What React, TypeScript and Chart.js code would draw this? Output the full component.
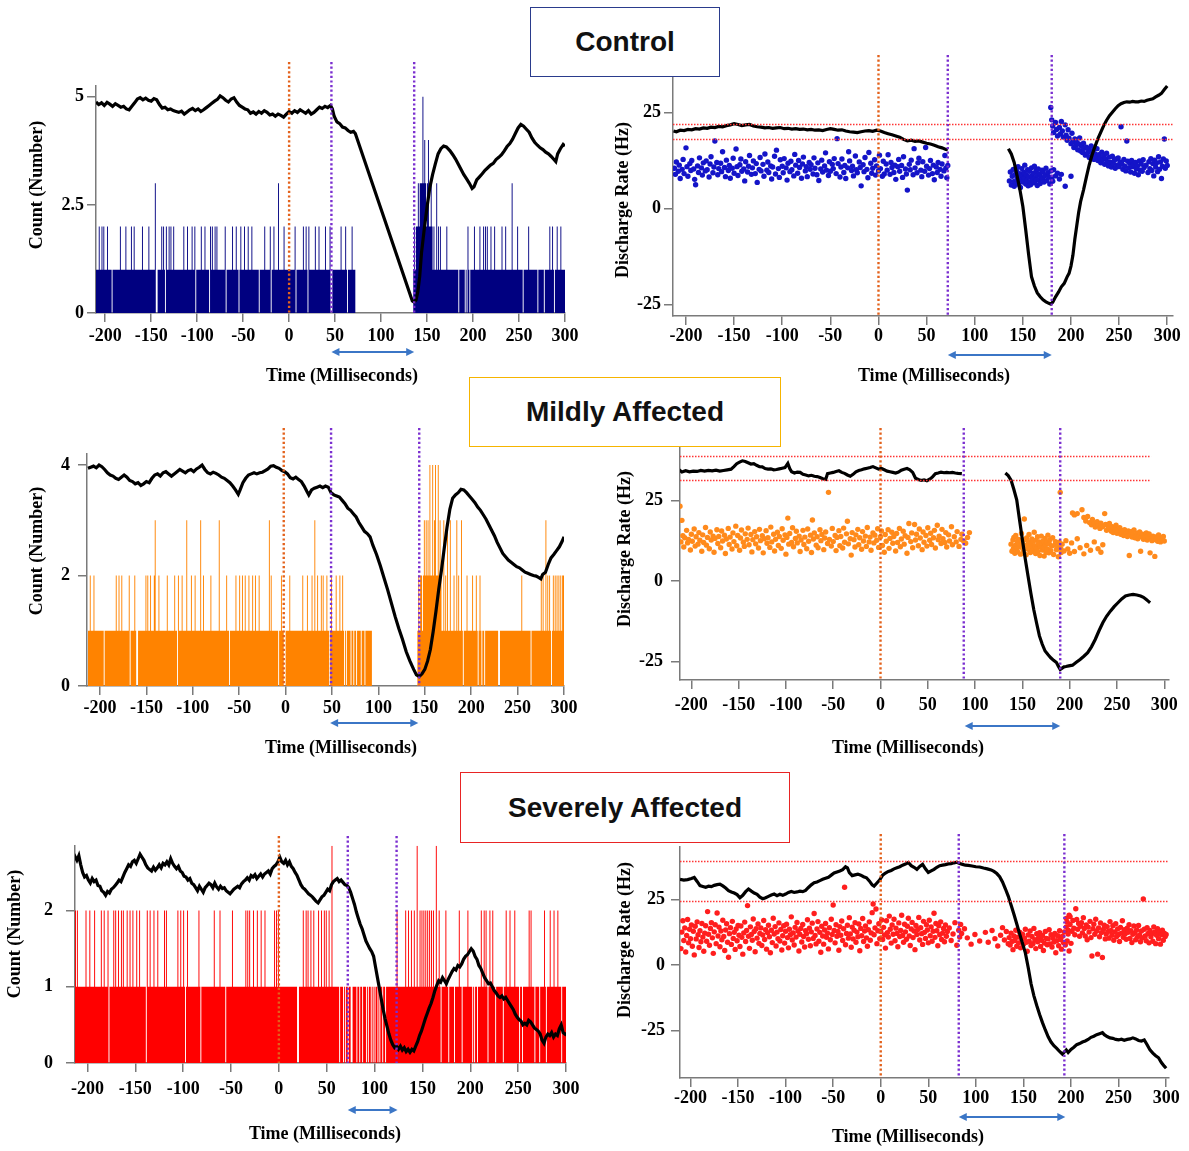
import React, { useEffect, useRef } from "react";
import { Chart, registerables } from "chart.js";

Chart.register(...registerables);

const SERIF = "'Liberation Serif', 'Times New Roman', serif";
const SANS = "'Liberation Sans', Arial, sans-serif";

// ---------- shared tick labels ----------
const X_TICKS = [-200, -150, -100, -50, 0, 50, 100, 150, 200, 250, 300];
const COUNT_TICKS_CTRL = [0, 2.5, 5];
const COUNT_TICKS_MILD = [0, 2, 4];
const COUNT_TICKS_SEV = [0, 1, 2];
const RATE_TICKS = [-25, 0, 25];

// ---------- Control: spike count histogram (1 ms bins, chunks of 10) ----------
const ctrlCountStart = -210;
const ctrlCountBins = [
  "1111211212", "1112111101", "1111111211", "1112111112", "1121111111",
  "1211111121", "1111130011", "1121210211", "2121121111", "1111112111",
  "2111121120", "1111121112", "1111021211", "2121111111", "1201111112",
  "1112110121", "1121112111", "2111111101", "1111211111", "2011211113",
  "1111121111", "1111111201", "1111112112", "1021111112", "1112111111",
  "2111120011", "1111111211", "1121011112", "1110000000", "0000000000",
  "0000000000", "0000000000", "0000000000", "0000000000", "0000001212",
  "2323335343", "2342232121", "1312121111", "1121111111", "1111101111",
  "1101021011", "1121111121", "1121212111", "2111211111", "1121112111",
  "1113111112", "1111101111", "1211111111", "1011111101", "1111211210",
  "1121112111",
];

const ctrlCountTrace: number[][] = [
  [-210,4.88],[-207,4.82],[-204,4.86],[-201,4.8],[-198,4.87],[-195,4.83],[-192,4.78],[-189,4.84],[-186,4.8],[-183,4.76],
  [-180,4.78],[-177,4.72],[-174,4.7],[-171,4.78],[-168,4.86],[-165,4.95],[-162,4.98],[-159,4.93],[-156,4.97],[-153,4.92],
  [-150,4.9],[-147,4.96],[-144,4.93],[-141,4.82],[-138,4.74],[-135,4.76],[-132,4.7],[-129,4.72],[-126,4.68],[-123,4.66],
  [-120,4.64],[-117,4.67],[-114,4.6],[-111,4.65],[-108,4.7],[-105,4.73],[-102,4.68],[-99,4.72],[-96,4.66],[-93,4.7],
  [-90,4.75],[-87,4.8],[-84,4.85],[-81,4.9],[-78,4.94],[-75,5.02],[-72,4.98],[-69,4.92],[-66,4.88],[-63,4.95],
  [-60,4.98],[-57,4.88],[-54,4.8],[-51,4.76],[-48,4.72],[-45,4.7],[-42,4.62],[-39,4.65],[-36,4.6],[-33,4.66],
  [-30,4.62],[-27,4.68],[-24,4.64],[-21,4.58],[-18,4.6],[-15,4.55],[-12,4.6],[-9,4.57],[-6,4.53],[-3,4.6],
  [0,4.66],[3,4.62],[6,4.68],[9,4.64],[12,4.7],[15,4.66],[18,4.62],[21,4.68],[24,4.6],[27,4.64],
  [30,4.7],[33,4.76],[36,4.73],[39,4.78],[42,4.75],[45,4.8],[47,4.72],[49,4.55],[52,4.42],[55,4.38],
  [58,4.3],[61,4.28],[64,4.22],[67,4.18],[70,4.2],[72,4.15],[134,0.28],[136,0.25],[138,0.3],[140,0.5],
  [142,0.85],[144,1.4],[147,1.95],[150,2.45],[153,2.9],[156,3.2],[159,3.45],[162,3.68],[165,3.8],[168,3.86],
  [171,3.84],[175,3.75],[178,3.66],[181,3.56],[184,3.44],[187,3.32],[190,3.2],[193,3.1],[196,3.0],[199,2.88],
  [201,2.92],[204,3.08],[207,3.15],[210,3.22],[213,3.3],[216,3.36],[219,3.42],[222,3.46],[225,3.55],[228,3.6],
  [231,3.66],[234,3.75],[237,3.85],[240,3.92],[243,4.02],[246,4.15],[249,4.28],[252,4.36],[255,4.32],[258,4.25],
  [261,4.18],[264,4.05],[267,3.95],[270,3.88],[273,3.82],[276,3.78],[279,3.72],[282,3.68],[285,3.62],[288,3.55],
  [290,3.5],[292,3.68],[295,3.8],[298,3.9],[300,3.86],
];

// ---------- Control: discharge rate ----------
const ctrlRateTraceA: number[][] = [
  [-213,20.2],[-210,20.0],[-206,20.4],[-202,20.3],[-198,20.6],[-194,20.5],[-190,20.8],[-186,20.7],[-182,21.0],[-178,20.9],
  [-174,21.2],[-170,21.1],[-166,21.4],[-162,21.3],[-158,21.6],[-154,21.8],[-150,22.1],[-146,21.9],[-142,21.6],[-138,21.8],
  [-134,21.9],[-130,21.5],[-126,21.3],[-122,21.2],[-118,21.0],[-114,21.1],[-110,20.9],[-106,21.0],[-102,21.1],[-98,20.8],
  [-94,20.9],[-90,20.7],[-86,20.8],[-82,20.6],[-78,20.7],[-74,20.5],[-70,20.6],[-66,20.4],[-62,20.5],[-58,20.3],
  [-54,20.6],[-50,20.8],[-46,20.6],[-42,20.4],[-38,20.5],[-34,20.2],[-30,20.0],[-26,19.9],[-22,19.8],[-18,20.0],
  [-14,20.2],[-10,20.3],[-6,20.1],[-2,20.4],[2,20.2],[6,19.8],[10,19.5],[14,19.2],[18,18.9],[22,18.6],
  [26,18.0],[30,17.6],[34,17.8],[38,17.5],[42,17.6],[46,17.3],[50,17.0],[54,16.8],[58,16.5],[62,16.1],
  [66,15.8],[70,15.4],[72,15.3],
];
const ctrlRateTraceB: number[][] = [
  [135,15.6],[138,14.2],[141,12.0],[144,8.5],[147,4.8],[150,0.5],[153,-5.6],[156,-12.0],[159,-17.8],[162,-20.2],
  [165,-22.0],[168,-23.0],[171,-23.8],[174,-24.3],[177,-24.7],[179,-24.9],[181,-24.4],[184,-23.0],[187,-21.8],[190,-20.4],
  [193,-19.5],[196,-17.8],[198,-16.9],[200,-15.0],[202,-12.2],[204,-8.0],[206,-4.5],[208,-1.0],[210,1.8],[213,4.8],
  [216,8.2],[219,11.4],[222,14.0],[225,16.2],[228,18.2],[231,19.9],[234,21.6],[237,23.0],[240,24.2],[243,25.1],
  [246,26.0],[249,26.8],[252,27.3],[255,27.6],[258,27.8],[261,27.7],[264,27.9],[267,27.8],[270,27.8],[273,28.0],
  [276,27.9],[279,28.2],[282,28.4],[285,28.6],[288,29.1],[291,29.5],[294,30.0],[297,31.0],[300,31.9],
];
const ctrlRateDotsPre: number[][] = [
  [-212,10.5],[-211,8.9],[-210,12.1],[-208,9.7],[-207,11.3],[-206,7.8],[-204,10.2],[-203,12.8],[-202,9.1],[-200,15.8],
  [-199,10.9],[-198,8.4],[-196,11.7],[-195,9.9],[-194,12.5],[-192,10.3],[-191,7.6],[-190,6.2],[-188,11.1],[-187,9.4],
  [-186,13.2],[-184,10.6],[-183,8.7],[-182,11.9],[-180,9.8],[-179,12.4],[-178,10.1],[-176,8.2],[-175,11.6],[-174,13.5],
  [-172,9.3],[-171,10.8],[-170,17.6],[-168,12.0],[-167,8.8],[-166,10.4],[-164,11.8],[-163,9.6],[-162,14.8],[-160,10.7],
  [-159,8.3],[-158,12.6],[-156,9.9],[-155,11.2],[-154,7.9],[-152,10.5],[-151,13.1],[-150,9.2],[-148,15.5],[-147,10.9],
  [-146,8.6],[-144,11.4],[-143,12.9],[-142,9.7],[-140,10.3],[-139,7.2],[-138,12.2],[-136,9.5],[-135,11.0],[-134,13.8],
  [-132,8.9],[-131,10.6],[-130,12.4],[-128,9.1],[-127,11.7],[-126,6.8],[-124,10.2],[-123,13.3],[-122,9.8],[-120,11.5],
  [-119,8.4],[-118,14.2],[-116,10.0],[-115,12.1],[-114,9.4],[-112,11.1],[-111,7.7],[-110,10.8],[-108,13.6],[-107,9.0],
  [-106,15.2],[-104,10.4],[-103,8.1],[-102,12.7],[-100,11.0],[-99,9.3],[-98,13.0],[-96,10.6],[-95,7.4],[-94,11.8],
  [-92,9.6],[-91,12.3],[-90,10.1],[-88,8.5],[-87,14.1],[-86,11.3],[-84,9.2],[-83,12.5],[-82,10.7],[-80,7.9],
  [-79,11.6],[-78,13.4],[-76,9.8],[-75,10.9],[-74,8.3],[-72,12.0],[-71,10.2],[-70,11.4],[-68,9.0],[-67,13.2],
  [-66,10.5],[-64,8.8],[-63,11.9],[-62,7.3],[-60,10.3],[-59,12.6],[-58,9.5],[-56,11.1],[-55,14.5],[-54,10.0],
  [-52,8.6],[-51,12.2],[-50,9.7],[-48,11.5],[-47,10.4],[-46,13.0],[-44,9.1],[-43,18.2],[-42,11.7],[-40,8.2],
  [-39,10.8],[-38,12.9],[-36,9.4],[-35,11.2],[-34,7.8],[-32,10.6],[-31,14.8],[-30,12.4],[-28,9.9],[-27,11.0],
  [-26,8.5],[-24,13.7],[-23,10.1],[-22,9.3],[-20,12.1],[-19,10.7],[-18,5.9],[-16,11.4],[-15,9.6],[-14,13.3],
  [-12,10.2],[-11,8.0],[-10,14.6],[-8,11.8],[-7,9.2],[-6,10.5],[-4,12.7],[-3,8.7],[-2,11.1],[0,9.8],
  [1,13.9],[2,10.4],[4,8.4],[5,12.3],[6,9.0],[8,11.6],[9,10.0],[10,14.0],[12,8.9],[13,12.0],
  [14,10.7],[16,9.4],[17,11.3],[18,7.6],[20,10.9],[21,12.8],[22,9.7],[24,11.2],[25,8.1],[26,13.5],
  [28,10.3],[29,9.0],[30,4.8],[32,11.5],[33,10.1],[34,12.6],[36,8.8],[37,15.6],[38,10.6],[40,9.3],
  [41,11.9],[42,13.1],[44,10.0],[45,8.3],[46,12.2],[48,9.7],[49,15.9],[50,11.0],[52,8.7],[53,10.4],
  [54,12.5],[56,9.1],[57,11.3],[58,7.5],[60,10.8],[61,9.4],[62,12.0],[64,10.2],[65,8.4],[66,11.6],
  [68,9.8],[69,13.8],[70,10.5],[71,8.0],[72,11.2],
];
const ctrlRateDotsCluster: number[][] = [
  [136,7.2],[137,9.5],[138,6.1],[139,8.4],[140,10.2],[140.5,7.0],[141,5.8],[142,8.9],[143,6.6],[143.5,9.8],
  [144,7.7],[145,10.9],[145.5,6.3],[146,8.2],[147,9.1],[147.5,5.5],[148,7.4],[149,10.4],[149.5,8.6],[150,6.9],
  [151,9.4],[151.5,7.9],[152,11.3],[153,6.4],[153.5,8.8],[154,7.2],[155,10.1],[155.5,5.9],[156,8.3],[157,9.7],
  [157.5,7.0],[158,6.2],[159,10.6],[159.5,8.5],[160,7.6],[161,9.2],[161.5,6.7],[162,11.0],[163,8.0],[163.5,7.3],
  [164,9.9],[165,6.0],[165.5,8.7],[166,10.3],[167,7.5],[167.5,9.0],[168,6.5],[169,8.1],[170,10.0],[170.5,7.8],
  [171,9.5],[172,6.9],[173,8.6],[174,10.5],[175,7.3],[176,9.3],[177,8.2],[178,6.4],[179,9.8],[180,8.0],
  [181,7.1],[182,10.1],[184,8.5],[186,9.2],[188,7.7],[190,8.9],[194,5.8],[200,8.4],
];
const ctrlRateDotsPost: number[][] = [
  [179,26.3],[180,23.1],[181,21.5],[182,19.8],[184,22.4],[185,20.6],[186,18.9],[188,21.1],[189,19.4],[190,22.7],
  [191,20.2],[192,18.6],[194,21.8],[195,19.1],[196,17.8],[197,20.5],[198,18.3],[200,16.9],[201,19.6],[202,17.4],
  [203,15.9],[204,18.1],[205,16.5],[206,17.2],[207,15.3],[208,16.8],[209,18.4],[210,15.0],[211,16.2],[212,14.6],
  [213,17.0],[214,15.7],[215,13.9],[216,16.0],[217,14.4],[218,15.5],[219,13.3],[220,14.9],[221,16.3],[222,13.7],
  [223,15.1],[224,12.8],[225,14.2],[226,13.5],[227,15.6],[228,12.5],[229,14.0],[230,13.1],[231,11.9],[232,14.7],
  [233,12.7],[234,13.8],[235,11.5],[236,13.0],[237,14.4],[238,12.2],[239,11.1],[240,13.4],[241,12.0],[242,10.8],
  [243,13.6],[244,11.7],[245,12.6],[246,10.5],[247,12.9],[248,11.3],[249,13.2],[250,10.9],[251,12.1],[252,21.3],
  [253,11.6],[254,10.2],[255,12.8],[256,11.0],[257,9.8],[258,17.6],[259,12.3],[260,10.6],[261,11.8],[262,9.5],
  [263,12.5],[264,10.9],[265,11.4],[266,9.2],[267,12.0],[268,10.3],[269,11.1],[270,8.8],[271,12.4],[272,10.0],
  [273,11.6],[274,9.7],[275,12.7],[276,10.7],[278,11.3],[280,9.4],[281,12.2],[282,10.4],[283,13.0],[284,9.9],
  [285,11.7],[286,8.5],[287,12.6],[288,10.8],[289,11.9],[290,9.6],[291,13.5],[292,10.2],[293,12.1],[294,7.8],
  [295,11.0],[296,12.9],[297,18.1],[298,10.5],[299,12.4],[300,11.2],
];

// ---------- Mildly affected: count histogram ----------
const mildCountStart = -213;
const mildCountBins = [
  "111",
  "2111211111", "1111101111", "1111111121", "1211211111", "1120111121",
  "0011111111", "2121121112", "3111211111", "1112111111", "1211021112",
  "1111311112", "1112111113", "1121111111", "2111111113", "1111111211",
  "0111111211", "1211211211", "1211121121", "1121111111", "1113121111",
  "1110112110", "0111121111", "1111111112", "1111211112", "1131121112",
  "1211121101", "2111121112", "1121010111", "1011011011", "1101110111",
  "1111000000", "0000000000", "0000000000", "0000000000", "0000000000",
  "0001212212", "3232324224", "2342242321", "1312131131", "1121131211",
  "3101112111", "1121112101", "2101101111", "1111111111", "0011111111",
  "1111111111", "1111121111", "1111101111", "1111112121", "1312121012",
  "1212121212",
];
const mildCountTrace: number[][] = [
  [-213,3.94],[-210,3.96],[-207,3.98],[-204,3.95],[-201,4.0],[-198,3.97],[-195,3.92],[-192,3.86],[-189,3.82],[-186,3.8],
  [-183,3.76],[-180,3.74],[-177,3.78],[-174,3.82],[-171,3.78],[-168,3.72],[-165,3.7],[-162,3.66],[-159,3.68],[-156,3.63],
  [-153,3.66],[-150,3.7],[-147,3.68],[-144,3.76],[-141,3.82],[-138,3.84],[-135,3.8],[-132,3.86],[-129,3.88],[-126,3.84],
  [-123,3.8],[-120,3.84],[-117,3.88],[-114,3.92],[-111,3.89],[-108,3.86],[-105,3.9],[-102,3.92],[-99,3.88],[-96,3.93],
  [-93,3.96],[-90,4.0],[-87,3.92],[-84,3.86],[-81,3.84],[-78,3.87],[-75,3.85],[-72,3.82],[-69,3.78],[-66,3.76],
  [-63,3.72],[-60,3.68],[-57,3.62],[-54,3.55],[-51,3.47],[-49,3.55],[-46,3.68],[-43,3.76],[-40,3.82],[-37,3.84],
  [-34,3.86],[-31,3.84],[-28,3.86],[-25,3.87],[-22,3.9],[-19,3.93],[-16,3.98],[-13,3.99],[-10,3.96],[-7,3.94],
  [-4,3.9],[-1,3.88],[2,3.84],[5,3.77],[8,3.75],[11,3.78],[14,3.74],[17,3.7],[20,3.62],[23,3.52],
  [25,3.46],[28,3.55],[31,3.58],[34,3.6],[37,3.62],[40,3.59],[43,3.62],[46,3.6],[49,3.5],[52,3.46],
  [55,3.44],[58,3.42],[61,3.36],[64,3.3],[67,3.22],[70,3.18],[73,3.12],[76,3.06],[79,2.96],[82,2.88],
  [85,2.8],[88,2.76],[91,2.7],[94,2.55],[98,2.38],[102,2.18],[106,1.96],[110,1.74],[114,1.5],[118,1.26],
  [122,1.04],[126,0.84],[130,0.62],[134,0.45],[138,0.3],[141,0.2],[144,0.17],[147,0.22],[150,0.3],[153,0.45],
  [156,0.66],[159,0.98],[162,1.35],[165,1.75],[168,2.1],[171,2.5],[174,2.88],[177,3.2],[180,3.4],[183,3.46],
  [186,3.5],[189,3.56],[192,3.55],[195,3.5],[198,3.44],[201,3.38],[204,3.32],[207,3.24],[210,3.18],[213,3.1],
  [216,3.02],[219,2.92],[222,2.82],[225,2.72],[228,2.6],[231,2.5],[234,2.4],[237,2.34],[240,2.28],[243,2.24],
  [246,2.2],[249,2.16],[252,2.14],[255,2.1],[258,2.06],[261,2.04],[264,2.02],[267,2.0],[270,1.99],[273,1.96],
  [275,1.94],[277,2.02],[280,2.06],[283,2.2],[286,2.32],[289,2.38],[292,2.45],[295,2.52],[298,2.62],[300,2.7],
];

// ---------- Mildly affected: discharge rate ----------
const mildRateTraceA: number[][] = [
  [-213,34.6],[-210,33.9],[-206,34.3],[-202,34.0],[-198,34.2],[-194,34.1],[-190,34.4],[-186,34.2],[-182,34.4],[-178,34.3],
  [-174,34.5],[-170,34.2],[-166,34.4],[-162,34.6],[-158,34.8],[-155,35.6],[-152,36.5],[-149,37.0],[-146,37.4],[-143,37.2],
  [-140,36.8],[-137,36.4],[-134,36.5],[-131,36.0],[-128,35.6],[-125,35.5],[-122,35.0],[-119,34.8],[-116,34.9],[-113,34.6],
  [-110,34.7],[-107,34.9],[-104,35.1],[-101,35.3],[-98,36.6],[-96,35.0],[-94,34.0],[-91,33.6],[-88,33.9],[-85,33.8],
  [-82,33.2],[-79,33.0],[-76,32.7],[-73,32.9],[-70,32.6],[-67,32.5],[-64,32.2],[-61,31.8],[-58,31.6],[-56,33.4],
  [-53,33.6],[-50,33.8],[-47,34.1],[-44,34.3],[-41,33.8],[-38,33.5],[-35,33.0],[-32,32.6],[-29,33.2],[-26,34.0],
  [-23,34.4],[-20,34.6],[-17,34.9],[-14,35.1],[-11,35.3],[-8,35.6],[-5,35.2],[-2,34.8],[1,35.0],[4,34.6],
  [7,34.2],[10,34.0],[13,33.8],[16,33.6],[19,33.9],[22,34.5],[25,34.8],[28,35.0],[31,34.6],[34,33.8],
  [37,32.0],[40,31.6],[43,31.3],[46,31.5],[49,31.2],[52,31.7],[55,32.4],[58,33.4],[61,33.6],[64,33.9],
  [67,33.7],[70,33.8],[73,33.7],[76,33.8],[79,33.6],[82,33.5],[86,33.4],
];
const mildRateTraceB: number[][] = [
  [132,33.6],[135,32.8],[138,31.4],[141,28.5],[144,25.3],[147,19.0],[150,12.9],[153,7.0],[156,1.5],[159,-3.8],
  [162,-8.8],[165,-13.0],[168,-17.0],[171,-19.6],[174,-21.7],[177,-22.8],[180,-23.8],[183,-24.6],[186,-25.3],[188,-26.4],
  [190,-27.4],[192,-27.0],[194,-26.6],[196,-26.5],[199,-26.3],[203,-26.1],[207,-25.2],[211,-24.3],[215,-23.3],[219,-22.2],
  [223,-20.4],[227,-18.1],[231,-15.4],[235,-12.9],[239,-10.9],[243,-9.3],[247,-7.9],[251,-6.7],[255,-5.5],[259,-4.6],
  [263,-4.3],[267,-4.1],[271,-4.3],[275,-4.6],[278,-5.0],[281,-5.7],[283,-6.2],[285,-6.7],
];
const mildRateDotsPre: number[][] = [
  [-212,23.3],[-211,12.2],[-210,18.9],[-209,14.1],[-208,10.6],[-207,13.5],[-205,15.8],[-204,11.9],[-203,13.0],[-201,9.7],
  [-200,14.6],[-199,12.4],[-197,16.2],[-196,10.9],[-195,13.8],[-193,11.5],[-192,15.1],[-191,12.7],[-189,9.3],[-188,14.4],
  [-187,12.0],[-185,16.7],[-184,11.2],[-183,13.6],[-181,10.1],[-180,15.3],[-179,12.8],[-177,14.0],[-176,9.0],[-175,13.3],
  [-173,16.0],[-172,11.7],[-171,13.9],[-169,10.4],[-168,15.6],[-167,12.5],[-165,14.3],[-164,8.6],[-163,13.1],[-161,16.4],
  [-160,11.4],[-159,13.7],[-157,10.0],[-156,15.0],[-155,12.3],[-153,17.1],[-152,11.0],[-151,14.2],[-149,9.6],[-148,13.4],
  [-147,15.9],[-145,12.1],[-144,10.8],[-143,14.7],[-141,13.0],[-140,16.5],[-139,11.3],[-137,14.5],[-136,9.1],[-135,12.9],
  [-133,15.4],[-132,11.6],[-131,13.8],[-129,10.3],[-128,16.1],[-127,12.6],[-125,14.1],[-124,8.8],[-123,13.2],[-121,15.7],
  [-120,11.8],[-119,13.5],[-117,10.5],[-116,16.8],[-115,12.2],[-113,14.6],[-112,9.4],[-111,13.0],[-109,15.2],[-108,11.1],
  [-107,13.9],[-105,10.2],[-104,16.3],[-103,12.7],[-101,14.4],[-100,8.4],[-99,13.6],[-98,19.6],[-97,11.5],[-96,14.8],
  [-94,12.0],[-93,16.6],[-92,10.7],[-90,13.3],[-89,15.5],[-88,11.9],[-86,14.0],[-85,9.2],[-84,12.8],[-82,15.8],
  [-81,11.4],[-80,13.7],[-78,10.1],[-77,16.2],[-76,12.4],[-74,14.3],[-73,8.9],[-72,19.0],[-71,13.1],[-70,15.0],
  [-68,11.2],[-67,13.8],[-66,10.4],[-64,16.0],[-63,12.6],[-62,14.5],[-60,9.8],[-59,13.4],[-58,15.3],[-56,11.7],
  [-55,27.6],[-54,13.0],[-52,10.9],[-51,16.4],[-50,12.3],[-48,14.2],[-47,9.5],[-46,13.6],[-44,15.7],[-43,11.0],
  [-42,13.9],[-40,10.3],[-39,16.5],[-38,12.1],[-36,14.7],[-35,18.6],[-34,11.6],[-32,13.2],[-31,8.1],[-30,15.1],
  [-28,12.9],[-27,10.6],[-26,14.4],[-24,16.1],[-23,11.3],[-22,13.5],[-20,9.9],[-19,15.4],[-18,12.5],[-16,14.0],
  [-15,10.8],[-14,16.7],[-12,12.2],[-11,13.7],[-10,9.6],[-8,15.0],[-7,11.9],[-6,14.3],[-4,12.7],[-3,16.3],
  [-2,10.5],[0,13.8],[1,15.6],[2,11.1],[4,9.0],[5,14.5],[6,12.4],[8,16.0],[9,10.2],[10,13.3],
  [12,15.2],[13,11.8],[14,13.9],[16,9.4],[17,14.8],[18,12.0],[20,16.4],[21,10.7],[22,13.1],[24,15.5],
  [25,11.5],[26,14.1],[28,8.7],[29,13.6],[30,17.9],[32,12.3],[33,15.0],[34,10.4],[36,17.6],[37,12.8],
  [38,14.6],[40,11.0],[41,16.2],[42,13.4],[44,9.8],[45,15.3],[46,12.1],[48,14.2],[49,10.9],[50,16.6],
  [52,12.7],[53,14.9],[54,11.4],[56,13.5],[57,15.8],[58,10.3],[60,17.4],[61,12.9],[62,14.0],[64,11.7],
  [65,16.1],[66,13.2],[68,12.0],[69,15.1],[70,10.6],[72,14.4],[73,12.5],[75,16.9],[76,11.3],[78,13.8],
  [80,12.2],[81,15.4],[83,10.8],[85,13.0],[86,14.6],[88,12.4],[90,11.8],[92,13.6],[94,15.1],
];
const mildRateDotsCluster: number[][] = [
  [138,11.5],[139,9.3],[140,12.8],[140.5,10.2],[141,13.6],[142,8.7],[142.5,11.1],[143,14.2],[144,10.0],[144.5,12.3],
  [145,9.1],[146,13.0],[146.5,10.7],[147,11.9],[148,8.4],[148.5,12.6],[149,14.8],[150,10.4],[150.5,11.6],[151,9.6],
  [152,19.3],[152.5,12.9],[153,10.9],[154,8.2],[154.5,13.4],[155,11.2],[156,9.9],[156.5,12.1],[157,14.5],[158,10.6],
  [158.5,8.9],[159,11.7],[160,13.1],[160.5,9.4],[161,12.4],[162,10.3],[162.5,15.2],[163,11.0],[164,8.6],[164.5,12.7],
  [165,10.1],[166,13.8],[166.5,9.2],[167,11.4],[168,12.2],[168.5,8.0],[169,10.8],[170,14.0],[170.5,11.8],[171,9.7],
  [172,12.5],[172.5,10.5],[173,7.8],[174,13.3],[174.5,11.3],[175,9.0],[176,12.0],[176.5,10.0],[177,14.3],[178,8.8],
  [178.5,11.6],[179,12.9],[180,9.5],[181,10.9],[182,13.5],[183,8.3],[184,11.2],[185,12.3],[186,9.8],[187,10.7],
  [188,7.6],[189,12.1],[190,27.6],[190.5,10.2],[191,8.9],[192,11.5],[194,9.4],[196,12.6],[198,10.0],[200,8.7],
  [202,11.9],[205,9.2],[208,13.2],[211,10.4],[215,8.5],[218,11.1],[222,9.6],[226,12.2],[230,10.1],[233,9.0],
  [235,11.3],
];
const mildRateDotsPost: number[][] = [
  [203,21.2],[205,20.6],[208,21.0],[213,22.2],[215,19.8],[217,18.7],[219,20.1],[221,18.2],[223,17.5],[224,19.2],
  [226,17.9],[227,16.8],[229,18.5],[230,17.2],[232,16.4],[233,18.0],[235,16.9],[237,21.0],[238,17.6],[239,15.8],
  [241,16.7],[242,17.9],[244,15.5],[245,16.9],[246,15.1],[248,16.3],[249,17.4],[250,14.9],[252,15.9],[253,16.6],
  [254,14.6],[256,15.7],[257,14.2],[258,16.0],[260,15.1],[261,13.9],[262,15.6],[263,8.0],[264,14.8],[265,15.4],
  [266,13.7],[267,14.5],[268,15.9],[269,13.5],[270,14.3],[271,14.9],[272,13.2],[273,14.1],[274,15.3],[275,9.3],
  [276,13.8],[277,14.6],[278,13.0],[279,14.2],[280,13.6],[281,15.0],[282,12.8],[283,13.9],[284,14.7],[285,8.8],
  [286,13.3],[287,12.6],[288,14.0],[289,13.1],[290,7.7],[291,12.9],[292,13.8],[293,12.4],[294,14.4],[295,13.0],
  [296,12.2],[297,13.5],[298,12.7],[299,13.9],[300,12.5],
];

// ---------- Severely affected: count histogram ----------
const sevCountStart = -213;
const sevCountBins = [
  "121",
  "2111111112", "1112111121", "1111121121", "1120111121", "2112112121",
  "1121121121", "1121121111", "1102112111", "2111211111", "1212111111",
  "1111121121", "1210121111", "1111111210", "1111111111", "1112111112",
  "1111101111", "1121111111", "1111112121", "2111211121", "1121112111",
  "1111112121", "2111111111", "1111111111", "0011112112", "1211211211",
  "1121121121", "2112113111", "1111011101", "0110110011", "1101101101",
  "1101011010", "1011010110", "1101111111", "1111211111", "1112112112",
  "1121131121", "2121212121", "2121131121", "0111121101", "1111011112",
  "1101111121", "1110101101", "1121121210", "1211211011", "1111101121",
  "1121111211", "1101101111", "1121211101", "1110111121", "0111211121",
  "1121110111",
];
const sevCountTrace: number[][] = [
  [-215,2.65],[-213,2.71],[-211,2.66],[-209,2.72],[-207,2.6],[-205,2.5],[-203,2.44],[-201,2.46],[-199,2.4],[-197,2.36],
  [-195,2.42],[-193,2.38],[-191,2.4],[-189,2.33],[-187,2.32],[-185,2.26],[-183,2.24],[-181,2.2],[-179,2.25],[-177,2.23],
  [-175,2.28],[-173,2.3],[-171,2.33],[-169,2.36],[-167,2.4],[-165,2.38],[-163,2.44],[-161,2.5],[-159,2.55],[-157,2.6],
  [-155,2.58],[-153,2.64],[-151,2.66],[-149,2.62],[-147,2.68],[-145,2.74],[-143,2.7],[-141,2.66],[-139,2.6],[-137,2.56],
  [-135,2.54],[-133,2.52],[-131,2.57],[-129,2.53],[-127,2.56],[-125,2.6],[-123,2.56],[-121,2.62],[-119,2.6],[-117,2.64],
  [-115,2.6],[-113,2.68],[-111,2.62],[-109,2.58],[-107,2.55],[-105,2.58],[-103,2.52],[-101,2.5],[-99,2.45],[-97,2.44],
  [-95,2.4],[-93,2.42],[-91,2.36],[-89,2.34],[-87,2.3],[-85,2.26],[-83,2.32],[-81,2.28],[-79,2.24],[-77,2.3],
  [-75,2.33],[-73,2.36],[-71,2.34],[-69,2.3],[-67,2.36],[-65,2.31],[-63,2.28],[-61,2.32],[-59,2.29],[-57,2.3],
  [-55,2.26],[-53,2.24],[-51,2.22],[-49,2.25],[-47,2.28],[-45,2.3],[-43,2.32],[-41,2.3],[-39,2.35],[-37,2.38],
  [-35,2.4],[-33,2.43],[-31,2.4],[-29,2.46],[-27,2.44],[-25,2.47],[-23,2.42],[-21,2.45],[-19,2.48],[-17,2.44],
  [-15,2.48],[-13,2.5],[-11,2.52],[-9,2.48],[-7,2.55],[-5,2.58],[-3,2.6],[-1,2.64],[1,2.7],[3,2.64],
  [5,2.62],[7,2.66],[9,2.6],[11,2.64],[13,2.58],[15,2.55],[17,2.5],[19,2.46],[21,2.4],[23,2.34],
  [25,2.3],[27,2.28],[29,2.25],[31,2.22],[33,2.2],[35,2.18],[37,2.15],[39,2.12],[41,2.1],[43,2.14],
  [45,2.18],[47,2.2],[49,2.24],[51,2.28],[53,2.26],[55,2.34],[57,2.38],[59,2.4],[61,2.42],[63,2.38],
  [65,2.4],[67,2.37],[69,2.34],[71,2.33],[73,2.3],[75,2.24],[77,2.16],[79,2.08],[81,1.98],[83,1.9],
  [85,1.82],[87,1.76],[89,1.68],[91,1.6],[93,1.55],[95,1.5],[97,1.46],[99,1.4],[101,1.26],[103,1.12],
  [105,0.98],[107,0.84],[109,0.7],[111,0.58],[113,0.48],[115,0.38],[117,0.3],[119,0.24],[121,0.2],[123,0.22],
  [125,0.18],[127,0.22],[129,0.17],[131,0.2],[133,0.15],[135,0.18],[137,0.14],[139,0.18],[141,0.16],[143,0.22],
  [145,0.28],[147,0.36],[149,0.42],[151,0.5],[153,0.58],[155,0.65],[157,0.72],[159,0.78],[161,0.86],[163,0.95],
  [165,1.02],[167,1.08],[169,1.06],[171,1.12],[173,1.08],[175,1.04],[177,1.1],[179,1.15],[181,1.2],[183,1.24],
  [185,1.22],[187,1.28],[189,1.26],[191,1.3],[193,1.36],[195,1.4],[197,1.42],[199,1.46],[201,1.5],[203,1.47],
  [205,1.4],[207,1.36],[209,1.28],[211,1.24],[213,1.18],[215,1.12],[217,1.08],[219,1.04],[221,1.05],[223,1.0],
  [225,0.95],[227,0.92],[229,0.88],[231,0.86],[233,0.88],[235,0.84],[237,0.86],[239,0.82],[241,0.78],[243,0.74],
  [245,0.7],[247,0.64],[249,0.6],[251,0.57],[253,0.55],[255,0.5],[257,0.52],[259,0.5],[261,0.56],[263,0.54],
  [265,0.5],[267,0.46],[269,0.44],[271,0.42],[273,0.38],[275,0.3],[277,0.26],[279,0.34],[281,0.38],[283,0.36],
  [285,0.4],[287,0.34],[289,0.38],[291,0.36],[293,0.45],[295,0.5],[297,0.4],[299,0.38],[300,0.4],
];

// ---------- Severely affected: discharge rate ----------
const sevRateTrace: number[][] = [
  [-211,32.6],[-207,32.3],[-203,32.5],[-199,32.9],[-196,33.3],[-193,31.8],[-190,30.2],[-187,29.9],[-184,29.6],[-181,30.0],
  [-178,29.8],[-175,30.3],[-172,30.6],[-169,30.8],[-166,30.1],[-163,29.3],[-160,28.3],[-157,27.8],[-154,27.4],[-151,26.8],
  [-148,25.6],[-145,26.5],[-142,27.9],[-139,28.9],[-136,28.1],[-133,27.4],[-130,26.9],[-127,25.8],[-124,25.2],[-121,25.6],
  [-118,26.1],[-115,26.6],[-112,27.0],[-109,26.4],[-106,26.9],[-103,26.5],[-100,27.0],[-97,27.6],[-94,28.0],[-91,27.6],
  [-88,27.8],[-85,28.1],[-82,27.9],[-79,28.4],[-76,29.5],[-73,30.5],[-70,31.3],[-67,31.6],[-64,32.1],[-61,32.6],
  [-58,33.0],[-55,33.4],[-52,34.2],[-49,35.0],[-46,35.4],[-43,35.8],[-40,36.3],[-37,37.4],[-35,37.0],[-33,35.2],
  [-30,34.0],[-27,34.3],[-24,34.6],[-21,34.2],[-18,33.6],[-15,33.2],[-12,32.0],[-9,30.5],[-7,30.0],[-4,31.2],
  [-1,32.4],[2,34.2],[5,35.0],[8,35.6],[11,36.0],[14,36.6],[17,37.0],[20,37.4],[23,38.0],[26,38.4],
  [29,39.0],[32,37.8],[35,37.2],[38,36.4],[41,37.5],[44,38.3],[47,36.6],[50,35.2],[53,35.8],[56,36.4],
  [59,37.2],[62,37.8],[65,38.0],[68,38.2],[71,38.5],[74,38.6],[77,38.9],[80,39.1],[83,38.6],[86,38.3],
  [89,38.0],[92,37.9],[96,37.7],[100,37.4],[104,37.3],[108,36.9],[112,36.6],[116,36.2],[119,35.6],[122,34.8],
  [125,33.6],[128,31.6],[131,29.0],[134,26.2],[137,22.8],[140,19.3],[143,15.6],[146,11.8],[149,8.2],[152,4.6],
  [155,-1.0],[158,-7.2],[161,-11.8],[164,-15.5],[167,-18.9],[170,-22.0],[173,-24.8],[176,-27.4],[179,-29.4],[182,-30.8],
  [185,-31.8],[188,-33.0],[191,-34.0],[193,-33.2],[195,-32.4],[197,-33.4],[200,-32.2],[203,-31.4],[206,-30.4],[209,-30.0],
  [212,-29.4],[215,-29.0],[218,-28.4],[221,-27.6],[224,-27.2],[227,-26.6],[230,-26.2],[233,-25.8],[235,-26.6],[238,-27.3],
  [241,-27.8],[244,-28.0],[247,-28.4],[250,-28.6],[253,-28.3],[256,-28.7],[259,-28.4],[262,-28.2],[265,-27.8],[268,-28.2],
  [271,-28.8],[274,-29.0],[277,-28.6],[280,-30.4],[283,-32.4],[286,-33.6],[289,-34.6],[292,-35.4],[295,-37.2],[298,-38.6],
  [300,-39.4],
];
const sevRateDotsPre: number[][] = [
  [-210,6.2],[-209,12.5],[-208,16.8],[-207,9.3],[-206,14.1],[-205,4.9],[-204,11.2],[-203,17.3],[-202,8.4],[-201,13.6],
  [-200,10.0],[-199,15.2],[-198,7.1],[-197,12.8],[-196,3.8],[-195,14.7],[-194,9.9],[-193,16.4],[-192,11.5],[-191,6.6],
  [-190,13.0],[-189,8.8],[-188,15.8],[-187,10.6],[-186,5.2],[-185,12.1],[-184,14.9],[-183,9.0],[-182,20.3],[-181,11.7],
  [-180,7.5],[-179,13.9],[-178,16.1],[-177,10.3],[-176,4.4],[-175,12.6],[-174,15.3],[-173,8.1],[-172,19.8],[-171,11.0],
  [-170,14.4],[-169,6.9],[-168,12.9],[-167,9.6],[-166,17.0],[-165,10.8],[-164,5.5],[-163,13.3],[-162,15.7],[-161,8.6],
  [-160,2.9],[-159,11.9],[-158,14.2],[-157,7.8],[-156,16.6],[-155,10.1],[-154,12.4],[-153,5.9],[-152,13.7],[-151,9.2],
  [-150,15.0],[-149,11.3],[-148,7.0],[-147,14.8],[-146,10.5],[-145,4.1],[-144,12.2],[-143,16.3],[-142,8.9],[-141,13.1],
  [-140,22.6],[-139,10.9],[-138,6.3],[-137,14.5],[-136,11.6],[-135,9.4],[-134,17.5],[-133,12.7],[-132,5.0],[-131,13.8],
  [-130,10.2],[-129,15.6],[-128,8.2],[-127,12.0],[-126,14.1],[-125,7.4],[-124,11.4],[-123,16.9],[-122,9.7],[-121,13.4],
  [-120,6.0],[-119,12.3],[-118,15.1],[-117,10.7],[-116,4.6],[-115,13.2],[-114,8.5],[-113,17.8],[-112,11.8],[-111,14.6],
  [-110,7.2],[-109,12.5],[-108,10.0],[-107,16.0],[-106,9.1],[-105,13.5],[-104,5.7],[-103,11.1],[-102,14.9],[-101,8.3],
  [-100,12.8],[-99,15.5],[-98,10.4],[-97,6.5],[-96,13.6],[-95,11.5],[-94,18.3],[-93,9.5],[-92,12.2],[-91,7.6],
  [-90,14.3],[-89,10.6],[-88,16.2],[-87,12.9],[-86,5.3],[-85,11.7],[-84,13.9],[-83,8.7],[-82,15.4],[-81,10.8],
  [-80,6.8],[-79,13.0],[-78,11.9],[-77,17.2],[-76,9.8],[-75,14.0],[-74,7.3],[-73,12.6],[-72,15.9],[-71,10.1],
  [-70,19.6],[-69,11.2],[-68,8.0],[-67,13.7],[-66,16.5],[-65,9.0],[-64,12.4],[-63,4.8],[-62,14.7],[-61,11.0],
  [-60,7.9],[-59,13.3],[-58,15.8],[-57,10.5],[-56,12.1],[-55,6.1],[-54,14.2],[-53,9.6],[-52,17.4],[-51,11.6],
  [-50,22.8],[-49,13.1],[-48,8.4],[-47,15.3],[-46,10.9],[-45,12.7],[-44,5.6],[-43,14.6],[-42,11.3],[-41,16.7],
  [-40,9.3],[-39,13.8],[-38,29.6],[-37,7.7],[-36,12.0],[-35,15.1],[-34,10.2],[-33,18.0],[-32,11.8],[-31,6.7],
  [-30,14.4],[-29,9.9],[-28,13.2],[-27,16.1],[-26,8.6],[-25,12.5],[-24,10.7],[-23,15.6],[-22,5.4],[-21,13.9],
  [-20,11.1],[-19,17.7],[-18,8.9],[-17,12.9],[-16,14.8],[-15,10.3],[-14,7.1],[-13,13.4],[-12,16.4],[-11,9.4],
  [-10,12.2],[-9,19.9],[-8,23.2],[-7,11.5],[-6,14.1],[-5,21.3],[-4,8.1],[-3,13.0],[-2,15.7],[-1,10.0],
  [0,12.7],[1,17.1],[2,9.7],[3,14.3],[4,11.4],[5,6.4],[6,16.8],[7,12.3],[8,10.6],[9,18.6],
  [10,13.6],[11,8.3],[12,15.2],[13,11.7],[14,17.4],[15,9.2],[16,14.0],[17,12.0],[18,6.9],[19,16.0],
  [20,10.8],[21,13.1],[22,18.9],[23,11.2],[24,8.6],[25,15.5],[26,12.6],[27,9.8],[28,14.7],[29,17.8],
  [30,11.0],[31,7.4],[32,13.7],[33,16.2],[34,10.4],[35,12.9],[36,5.8],[37,15.0],[38,11.6],[39,13.5],
  [40,18.1],[41,9.5],[42,14.2],[43,11.9],[44,7.8],[45,16.6],[46,12.4],[47,10.1],[48,15.3],[49,13.3],
  [50,8.4],[51,17.0],[52,11.1],[53,14.5],[54,9.0],[55,12.8],[56,19.7],[57,10.5],[58,15.8],[59,13.0],
  [60,7.3],[61,14.9],[62,11.5],[63,16.4],[64,9.7],[65,12.1],[66,13.9],[67,8.8],[68,15.2],[69,10.9],
  [70,12.7],[72,14.1],[74,9.3],[76,11.8],[78,16.1],[80,7.5],[82,13.2],[83,10.6],[84,15.4],[85,12.0],
  [88,13.8],[91,10.3],[95,7.9],[99,11.6],[104,9.1],[110,12.4],[113,8.6],[117,13.1],[120,10.0],[123,7.2],
  [126,11.3],[128,14.2],[130,9.5],[132,12.7],[134,8.1],
];
const sevRateDotsCluster: number[][] = [
  [135,10.4],[136,7.6],[137,12.1],[138,8.9],[139,5.8],[140,11.0],[141,9.3],[142,13.2],[143,7.1],[144,10.6],
  [145,8.4],[146,12.5],[147,6.5],[148,9.8],[149,11.7],[150,7.9],[151,10.2],[152,13.6],[153,8.6],[154,5.2],
  [155,11.4],[156,9.0],[157,12.9],[158,7.4],[159,10.8],[160,8.1],[161,13.9],[162,9.6],[163,6.2],[164,11.9],
  [165,8.8],[166,10.5],[167,12.3],[168,7.0],[169,9.4],[170,11.2],[171,5.5],[172,8.3],[173,12.7],[174,10.1],
  [175,7.7],[176,9.9],[177,13.4],[178,8.0],[179,11.5],[180,6.8],[181,10.3],[182,8.7],[183,12.0],[184,4.6],
  [185,9.2],[186,11.1],[187,7.3],[188,13.0],[189,9.7],[190,6.0],[191,10.9],[192,8.5],[193,12.6],[194,7.6],
  [195,17.7],[196,9.1],[197,11.8],[198,5.3],[199,18.4],[200,8.2],
];
const sevRateDotsPost: number[][] = [
  [195,14.5],[196,16.3],[197,13.2],[198,18.9],[199,15.4],[201,12.8],[202,16.9],[203,14.0],[204,11.5],[205,21.4],
  [206,17.3],[207,13.6],[208,15.8],[209,10.9],[210,14.7],[211,16.1],[212,12.2],[213,18.0],[214,13.9],[215,11.0],
  [216,15.2],[217,9.6],[218,14.4],[219,12.5],[220,16.6],[221,10.4],[222,3.4],[223,13.8],[224,15.5],[225,11.7],
  [226,17.4],[227,12.9],[228,4.1],[229,14.1],[230,10.7],[231,16.0],[232,12.3],[233,2.8],[234,13.5],[235,15.1],
  [236,9.9],[237,11.8],[238,14.6],[239,12.7],[240,10.2],[241,16.5],[242,13.1],[243,11.3],[244,14.9],[245,9.4],
  [246,12.6],[247,15.7],[248,10.8],[249,13.7],[250,11.6],[251,8.9],[252,14.3],[253,12.1],[254,16.8],[255,10.5],
  [256,13.4],[257,11.9],[258,9.8],[259,14.0],[260,12.4],[261,15.3],[262,10.1],[263,13.0],[264,8.5],[265,11.7],
  [266,14.8],[267,12.2],[268,9.6],[269,13.3],[270,10.6],[271,15.0],[272,11.4],[273,8.8],[274,12.9],[275,10.3],
  [276,25.1],[277,13.6],[278,11.0],[279,9.2],[280,14.2],[281,12.0],[282,8.4],[283,13.1],[284,10.7],[285,11.9],
  [286,9.0],[287,14.5],[288,12.6],[289,8.1],[290,11.3],[291,13.8],[292,10.0],[293,12.4],[294,7.9],[295,11.5],
  [296,13.2],[297,9.4],[298,12.1],[299,10.8],[300,11.6],
];

// ---------- event markers (ms) and reference levels (Hz) ----------
const ctrlCountMarkers = [0, 46, 136];
const ctrlRateMarkers = [0, 72, 180];
const ctrlRateRefs = [21.9, 18.0];
const mildCountMarkers = [-2, 49, 144];
const mildRateMarkers = [0, 88, 190];
const mildRateRefs = [38.8, 31.4];
const sevCountMarkers = [0, 72, 123];
const sevRateMarkers = [0, 82, 193];
const sevRateRefs = [39.7, 24.4];

// ---------- helpers ----------
const binsToPoints = (start: number, chunks: string[]) => {
  const vals = chunks.join("").split("").map(Number);
  const pts = vals.map((v, i) => ({ x: start + i, y: v }));
  pts.push({ x: start + vals.length, y: vals[vals.length - 1] });
  return pts;
};
const pairs = (arr: number[][]) => arr.map(([x, y]) => ({ x, y }));

const ORANGE_LINE = "#e3621c";
const PURPLE_LINE = "#7b2fd0";

const traceDs = (arr: number[][]) => ({
  type: "line",
  data: pairs(arr),
  borderColor: "#000",
  borderWidth: 3.2,
  pointRadius: 0,
  fill: false,
  tension: 0,
  order: 0,
});
const histDs = (start: number, chunks: string[], color: string) => ({
  type: "line",
  data: binsToPoints(start, chunks),
  stepped: "after",
  fill: "origin",
  backgroundColor: color,
  borderColor: "rgba(0,0,0,0)",
  borderWidth: 0,
  pointRadius: 0,
  order: 2,
});
const dotsDs = (arr: number[][], color: string) => ({
  type: "line",
  data: pairs(arr),
  showLine: false,
  pointRadius: 2.7,
  pointBorderWidth: 0,
  pointBackgroundColor: color,
  pointBorderColor: color,
  order: 1,
});

type PanelCfg = {
  area: [number, number, number, number];
  xMin: number; xMax: number; yMin: number; yMax: number;
  yTicks: number[];
  yTitle: string;
  yTitlePos: [number, number];
  xTitlePos: [number, number];
  xPad: number; yPad: number;
  vTop: number;
  markers: number[];
  refs: number[];
  refTo: number;
  arrow: [number, number, number];
  datasets: any[];
};

const panels: PanelCfg[] = [
  {
    area: [96, 86, 565, 313], xMin: -210, xMax: 300, yMin: 0, yMax: 5.25,
    yTicks: COUNT_TICKS_CTRL, yTitle: "Count (Number)", yTitlePos: [37, 185], xTitlePos: [342, 376],
    xPad: 4, yPad: 3, vTop: 62, markers: ctrlCountMarkers, refs: [], refTo: 300, arrow: [46, 136, 352],
    datasets: [traceDs(ctrlCountTrace), histDs(ctrlCountStart, ctrlCountBins, "#000080")],
  },
  {
    area: [673, 78, 1173, 316], xMin: -213.5, xMax: 306, yMin: -28, yMax: 34,
    yTicks: RATE_TICKS, yTitle: "Discharge Rate (Hz)", yTitlePos: [623, 200], xTitlePos: [934, 376],
    xPad: 1, yPad: 3, vTop: 55, markers: ctrlRateMarkers, refs: ctrlRateRefs, refTo: 306, arrow: [72, 180, 355],
    datasets: [
      traceDs(ctrlRateTraceA), traceDs(ctrlRateTraceB),
      dotsDs(ctrlRateDotsPre, "#1414c8"), dotsDs(ctrlRateDotsCluster, "#1414c8"), dotsDs(ctrlRateDotsPost, "#1414c8"),
    ],
  },
  {
    area: [87, 454, 564, 686], xMin: -214, xMax: 300, yMin: 0, yMax: 4.2,
    yTicks: COUNT_TICKS_MILD, yTitle: "Count (Number)", yTitlePos: [37, 551], xTitlePos: [341, 748],
    xPad: 3, yPad: 8, vTop: 428, markers: mildCountMarkers, refs: [], refTo: 300, arrow: [48, 143, 723],
    datasets: [traceDs(mildCountTrace), histDs(mildCountStart, mildCountBins, "#ff8300")],
  },
  {
    area: [680, 446, 1169, 680], xMin: -212, xMax: 305, yMin: -30.7, yMax: 42,
    yTicks: RATE_TICKS, yTitle: "Discharge Rate (Hz)", yTitlePos: [625, 549], xTitlePos: [908, 748],
    xPad: 6, yPad: 8, vTop: 428, markers: mildRateMarkers, refs: mildRateRefs, refTo: 286, arrow: [89, 190, 726],
    datasets: [
      traceDs(mildRateTraceA), traceDs(mildRateTraceB),
      dotsDs(mildRateDotsPre, "#ff8a1c"), dotsDs(mildRateDotsCluster, "#ff8a1c"), dotsDs(mildRateDotsPost, "#ff8a1c"),
    ],
  },
  {
    area: [75, 826, 566, 1063], xMin: -213, xMax: 300, yMin: 0, yMax: 2.85,
    yTicks: COUNT_TICKS_SEV, yTitle: "Count (Number)", yTitlePos: [15, 934], xTitlePos: [325, 1134],
    xPad: 7, yPad: 13, vTop: 836, markers: sevCountMarkers, refs: [], refTo: 300, arrow: [72, 124, 1110],
    datasets: [traceDs(sevCountTrace), histDs(sevCountStart, sevCountBins, "#ff0000")],
  },
  {
    area: [680, 840, 1169, 1078], xMin: -211, xMax: 303, yMin: -43.1, yMax: 45,
    yTicks: RATE_TICKS, yTitle: "Discharge Rate (Hz)", yTitlePos: [625, 940], xTitlePos: [908, 1137],
    xPad: 1, yPad: 6, vTop: 834, markers: sevRateMarkers, refs: sevRateRefs, refTo: 303, arrow: [82, 194, 1117],
    datasets: [
      traceDs(sevRateTrace),
      dotsDs(sevRateDotsPre, "#ff1e1e"), dotsDs(sevRateDotsCluster, "#ff1e1e"), dotsDs(sevRateDotsPost, "#ff1e1e"),
    ],
  },
];

const titleBoxes = [
  { text: "Control", left: 530, top: 7, width: 190, height: 70, color: "#2a3b8c" },
  { text: "Mildly Affected", left: 469, top: 377, width: 312, height: 70, color: "#f6b400" },
  { text: "Severely Affected", left: 460, top: 772, width: 330, height: 71, color: "#e82424" },
];

function PanelChart({ cfg }: { cfg: PanelCfg }) {
  const ref = useRef<HTMLCanvasElement | null>(null);
  const [l, t, r, b] = cfg.area;
  const cL = Math.max(0, Math.floor(cfg.yTitlePos[0] - 12));
  const cT = Math.floor(Math.min(cfg.vTop, t) - 4);
  const cR = Math.min(1189, r + 22);
  const cB = Math.min(1151, Math.ceil(cfg.xTitlePos[1] + 13));
  const w = cR - cL;
  const h = cB - cT;

  useEffect(() => {
    const tickFont = { family: SERIF, size: 18, weight: "bold" as const };
    const overlay = {
      id: "overlay",
      afterDatasetsDraw(chart: any) {
        const { ctx, chartArea } = chart;
        const xs = chart.scales.x;
        const ys = chart.scales.y;
        ctx.save();
        // horizontal reference levels
        for (const v of cfg.refs) {
          const py = Math.round(ys.getPixelForValue(v)) + 0.5;
          ctx.beginPath();
          ctx.setLineDash([1.5, 1.5]);
          ctx.lineWidth = 1.6;
          ctx.strokeStyle = "#ff3434";
          ctx.moveTo(chartArea.left, py);
          ctx.lineTo(xs.getPixelForValue(cfg.refTo), py);
          ctx.stroke();
        }
        // vertical event markers
        cfg.markers.forEach((m, i) => {
          const px = xs.getPixelForValue(m);
          ctx.beginPath();
          ctx.setLineDash([2.2, 2.4]);
          ctx.lineWidth = 2.4;
          ctx.strokeStyle = i === 0 ? ORANGE_LINE : PURPLE_LINE;
          ctx.moveTo(px, cfg.vTop - cT);
          ctx.lineTo(px, chartArea.bottom);
          ctx.stroke();
        });
        // double-headed arrow under the axis
        const [a0, a1, ay] = cfg.arrow;
        const x0 = xs.getPixelForValue(a0);
        const x1 = xs.getPixelForValue(a1);
        const y = ay - cT;
        ctx.setLineDash([]);
        ctx.strokeStyle = "#3b76c6";
        ctx.fillStyle = "#3b76c6";
        ctx.lineWidth = 2.2;
        ctx.beginPath();
        ctx.moveTo(x0 + 6, y);
        ctx.lineTo(x1 - 6, y);
        ctx.stroke();
        ctx.beginPath();
        ctx.moveTo(x0, y);
        ctx.lineTo(x0 + 8, y - 4);
        ctx.lineTo(x0 + 8, y + 4);
        ctx.closePath();
        ctx.fill();
        ctx.beginPath();
        ctx.moveTo(x1, y);
        ctx.lineTo(x1 - 8, y - 4);
        ctx.lineTo(x1 - 8, y + 4);
        ctx.closePath();
        ctx.fill();
        // axis titles
        ctx.fillStyle = "#000";
        ctx.font = `bold 18px ${SERIF}`;
        ctx.textAlign = "center";
        ctx.textBaseline = "middle";
        ctx.fillText("Time (Milliseconds)", cfg.xTitlePos[0] - cL, cfg.xTitlePos[1] - cT);
        ctx.translate(cfg.yTitlePos[0] - cL, cfg.yTitlePos[1] - cT);
        ctx.rotate(-Math.PI / 2);
        ctx.fillText(cfg.yTitle, 0, 0);
        ctx.restore();
      },
    };

    const chart = new Chart(ref.current as HTMLCanvasElement, {
      type: "line",
      data: { datasets: cfg.datasets },
      options: {
        responsive: false,
        animation: false,
        devicePixelRatio: 1,
        events: [],
        layout: { padding: { left: 0, top: t - cT, right: cR - r, bottom: 0 } },
        plugins: { legend: { display: false }, tooltip: { enabled: false } },
        scales: {
          x: {
            type: "linear",
            min: cfg.xMin,
            max: cfg.xMax,
            afterBuildTicks: (s: any) => { s.ticks = X_TICKS.map((v) => ({ value: v })); },
            afterFit: (s: any) => { s.height = cB - b; },
            grid: { drawOnChartArea: false, drawTicks: true, tickLength: 9, color: "#7a7a7a", lineWidth: 1.5 },
            border: { display: true, color: "#7a7a7a", width: 1.5 },
            ticks: { font: tickFont, color: "#000", padding: cfg.xPad, maxRotation: 0, autoSkip: false },
          },
          y: {
            type: "linear",
            min: cfg.yMin,
            max: cfg.yMax,
            afterBuildTicks: (s: any) => { s.ticks = cfg.yTicks.map((v) => ({ value: v })); },
            afterFit: (s: any) => { s.width = l - cL; },
            grid: { drawOnChartArea: false, drawTicks: true, tickLength: 9, color: "#7a7a7a", lineWidth: 1.5 },
            border: { display: true, color: "#7a7a7a", width: 1.5 },
            ticks: { font: tickFont, color: "#000", padding: cfg.yPad, callback: (v: any) => String(v) },
          },
        },
      } as any,
      plugins: [overlay],
    } as any);
    return () => chart.destroy();
  }, []);

  return (
    <canvas
      ref={ref}
      width={w}
      height={h}
      style={{ position: "absolute", left: cL, top: cT, width: w, height: h }}
    />
  );
}

export default function App() {
  return (
    <div
      style={{
        position: "absolute",
        left: 0,
        top: 0,
        width: 1189,
        height: 1151,
        overflow: "hidden",
        background: "#fff",
      }}
    >
      {panels.map((p, i) => (
        <PanelChart key={i} cfg={p} />
      ))}
      {titleBoxes.map((bx) => (
        <div
          key={bx.text}
          style={{
            position: "absolute",
            left: bx.left,
            top: bx.top,
            width: bx.width,
            height: bx.height,
            boxSizing: "border-box",
            border: `1.5px solid ${bx.color}`,
            background: "#fff",
            zIndex: 2,
            display: "flex",
            alignItems: "center",
            justifyContent: "center",
            fontFamily: SANS,
            fontWeight: 700,
            fontSize: 28,
            color: "#111",
          }}
        >
          {bx.text}
        </div>
      ))}
    </div>
  );
}
